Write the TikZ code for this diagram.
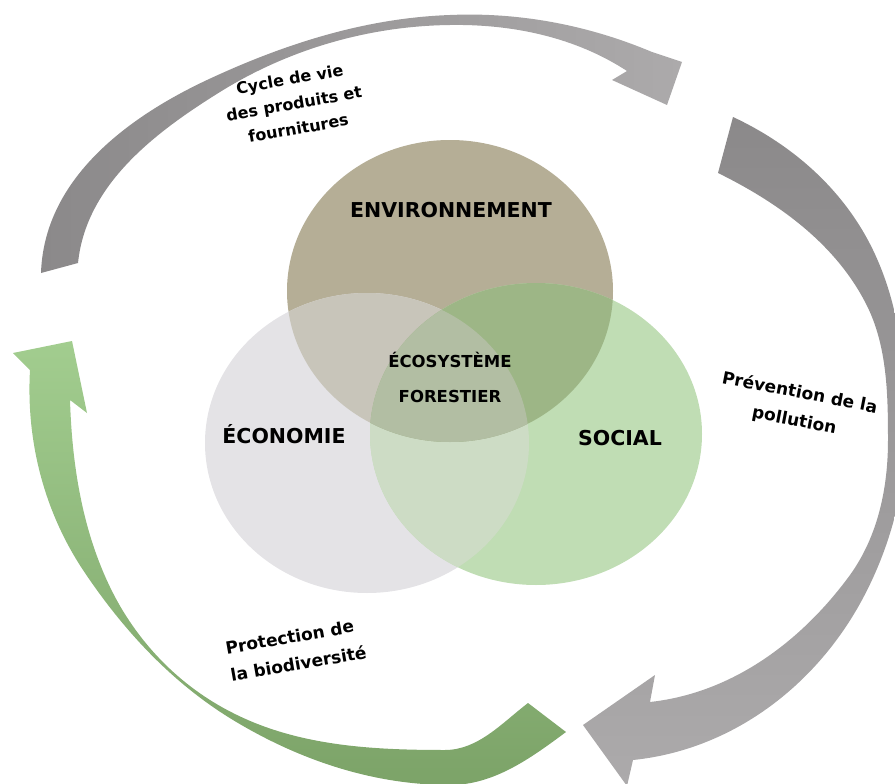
\documentclass[tikz,border=0pt]{standalone}
\usepackage{fontspec}
\setmainfont{DejaVu Sans}
\usetikzlibrary{positioning}
\definecolor{envfill}{HTML}{B5AE96}
\definecolor{ecofill}{HTML}{E4E3E6}
\definecolor{socfill}{HTML}{C0DDB4}
\definecolor{envecofill}{HTML}{C8C5BA}
\definecolor{envsocfill}{HTML}{9DB686}
\definecolor{ecosocfill}{HTML}{CDDCC5}
\definecolor{corefill}{HTML}{B2BEA3}
\definecolor{greydark}{HTML}{8B898A}
\definecolor{greylight}{HTML}{ACAAAB}
\definecolor{greenlight}{HTML}{A2CD8F}
\definecolor{greendark}{HTML}{7CA368}
\def\envdisc{(envc) ellipse [x radius=163, y radius=151]}
\def\ecodisc{(ecoc) ellipse [x radius=162, y radius=150]}
\def\socdisc{(socc) ellipse [x radius=166, y radius=151]}
\begin{document}
\begin{tikzpicture}[x=1pt, y=-1pt,
		BigLabel/.style={font=\bfseries\fontsize{20.5}{24}\selectfont, inner sep=0pt, anchor=base},
		CoreLabel/.style={font=\bfseries\fontsize{16.5}{20}\selectfont, inner sep=0pt},
		SmallLabel/.style={font=\bfseries\fontsize{16}{25}\selectfont, inner sep=0pt, align=center},
		WideLabel/.style={font=\bfseries\fontsize{17}{28}\selectfont, inner sep=0pt}]
		\useasboundingbox (0,0) rectangle (895,784);
		\clip (0,0) rectangle (895,784);
		% arrows round the circles
		\shade[left color=greydark, right color=greylight]
		(41,273) .. controls +(3,-92) and +(-83,39) .. (207,80)
		.. controls +(77,-36) and +(-85,3) .. (450,15)
		.. controls +(69,-3) and +(-64,-27) .. (652,52)
		-- (682,62) -- (667,105) -- (612,80) -- (627,71)
		.. controls +(-52,-34) and +(62,-1) .. (450,25)
		.. controls +(-81,1) and +(69,-43) .. (220,92)
		.. controls +(-66,41) and +(8,-78) .. (78,263) -- cycle;
		\shade[top color=greydark, bottom color=greylight]
		(733,117) .. controls +(60,28) and +(-29,-60) .. (873,250)
		.. controls +(27,56) and +(0,-62) .. (906,430)
		.. controls +(0,59) and +(28,-52) .. (862,600)
		.. controls +(-47,87) and +(98,-10) .. (633,760)
		-- (627,786) -- (583,725) -- (655,675) -- (650,702)
		.. controls +(82,-9) and +(-49,67) .. (850,575)
		.. controls +(28,-39) and +(0,48) .. (888,440)
		.. controls +(0,-48) and +(23,42) .. (864,300)
		.. controls +(-31,-58) and +(59,29) .. (718,173) -- cycle;
		\shade[top color=greenlight, bottom color=greendark]
		(566,732) .. controls +(-35,26) and +(44,0) .. (450,785)
		.. controls +(-77,0) and +(66,40) .. (233,720)
		.. controls +(-61,-37) and +(40,60) .. (83,570)
		.. controls +(-39,-59) and +(-4,71) .. (30,370)
		-- (13,353) -- (72,341) -- (87,413) -- (70,400)
		.. controls +(2,64) and +(-28,-58) .. (110,587)
		.. controls +(26,54) and +(-54,-27) .. (233,713)
		.. controls +(65,33) and +(-73,0) .. (445,750)
		.. controls +(33,0) and +(-26,20) .. (528,703) -- cycle;
		% circles
		\coordinate (envc) at (450,291);
		\coordinate (ecoc) at (367,443);
		\coordinate (socc) at (536,434);
		\fill[envfill] \envdisc;
		\fill[ecofill] \ecodisc;
		\fill[socfill] \socdisc;
		\begin{scope}
			\clip \ecodisc;
			\fill[ecosocfill] \socdisc;
		\end{scope}
		\begin{scope}
			\clip \envdisc;
			\fill[envecofill] \ecodisc;
			\fill[envsocfill] \socdisc;
			\clip \ecodisc;
			\fill[corefill] \socdisc;
		\end{scope}
		\node[BigLabel] (env) at (451,217) {ENVIRONNEMENT};
		\node[BigLabel] (eco) at (284,443) {ÉCONOMIE};
		\node[BigLabel] (soc) at (620,445) {SOCIAL};
		\node[CoreLabel, anchor=base] (ecosys) at (450,367) {ÉCOSYSTÈME};
		\node[CoreLabel, below=23pt of ecosys] (forest) {FORESTIER};
		\node[SmallLabel, rotate=10] (cycle) at (294,103.5) {Cycle de vie\\des produits et\\fournitures};
		\node[WideLabel, align=center, rotate=-11] (pollution) at (797,407) {Prévention de la\\pollution};
		\node[WideLabel, align=left, rotate=10] (biodiv) at (296,650) {Protection de\\la biodiversité};
	\end{tikzpicture}
\end{document}
